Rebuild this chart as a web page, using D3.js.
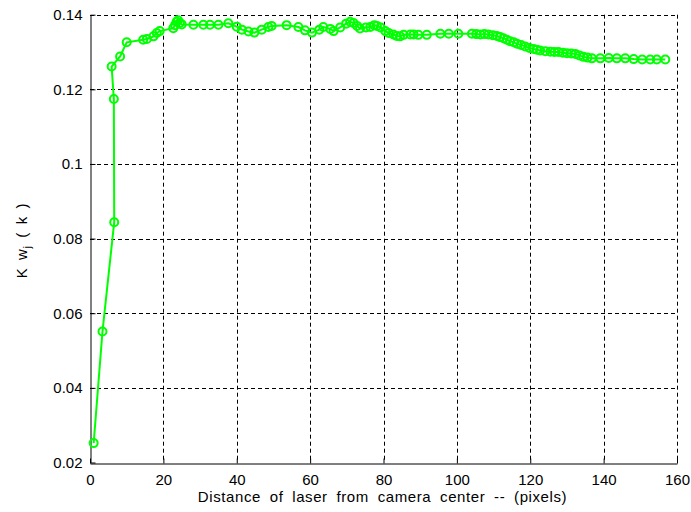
<!DOCTYPE html>
<html>
<head>
<meta charset="utf-8">
<script src="https://cdn.jsdelivr.net/npm/d3@7"></script>
<style>
  body { margin: 0; background: #fff; }
  text { font-family: Arial, "Liberation Sans", sans-serif; fill: #000; }
</style>
</head>
<body>
<svg id="chart" width="691" height="512"></svg>
<script>
// distance of laser from camera center (pixels)
const distance = [
  1.0, 3.4, 6.6, 6.5, 5.9, 8.2, 10.0, 14.5, 15.5, 17.3, 18.2, 19.0,
  22.7, 23.2, 23.6, 24.0, 24.5, 25.0, 28.2, 30.9, 32.7, 35.0, 37.7,
  40.0, 41.4, 43.2, 44.8, 46.8, 48.6, 49.5, 53.6, 56.8, 58.6, 60.5,
  62.5, 63.6, 65.5, 66.4, 68.2, 69.8, 70.9, 71.8, 72.8, 73.6, 75.2,
  76.4, 77.5, 78.2, 79.2, 80.5, 81.4, 82.7, 83.6, 84.5, 85.5, 87.3,
  88.2, 89.5, 91.8, 95.5, 97.8, 100.4, 104.1, 105.3, 106.4, 107.5,
  108.6, 109.8, 110.9, 111.8, 112.7, 113.6, 114.5, 115.5, 116.4,
  117.5, 118.6, 119.8, 120.9, 121.8, 122.7, 124.1, 125.5, 126.6,
  127.7, 128.9, 130.0, 131.2, 132.3, 133.4, 134.5, 135.6, 136.8,
  139.1, 141.4, 143.6, 145.9, 148.2, 150.5, 152.7, 154.5, 156.8
];
// Kw_j(k) values
const kw = [
  0.0252, 0.0551, 0.0844, 0.1174, 0.1261, 0.1288, 0.1326, 0.1333, 0.1335, 0.1342, 0.1351, 0.1356,
  0.1364, 0.1372, 0.1381, 0.1385, 0.1378, 0.1374, 0.1373, 0.1373, 0.1373, 0.1373, 0.1377,
  0.1368, 0.1360, 0.1355, 0.1352, 0.1360, 0.1367, 0.1370, 0.1372, 0.1367, 0.1358, 0.1352,
  0.1360, 0.1367, 0.1362, 0.1356, 0.1366, 0.1376, 0.1381, 0.1378, 0.1370, 0.1363, 0.1366,
  0.1367, 0.1372, 0.1370, 0.1366, 0.1356, 0.1351, 0.1347, 0.1343, 0.1342, 0.1346, 0.1347,
  0.1347, 0.1346, 0.1346, 0.1349, 0.1349, 0.1349, 0.1349, 0.1348, 0.1347, 0.1348,
  0.1347, 0.1345, 0.1343, 0.1340, 0.1337, 0.1333, 0.1329, 0.1326, 0.1322,
  0.1319, 0.1315, 0.1311, 0.1308, 0.1306, 0.1304, 0.1302, 0.1301, 0.1300,
  0.1300, 0.1298, 0.1297, 0.1296, 0.1295, 0.1291, 0.1287, 0.1285, 0.1283,
  0.1283, 0.1284, 0.1283, 0.1283, 0.1281, 0.1280, 0.1280, 0.1280, 0.1280
];
const xTicks = [0, 20, 40, 60, 80, 100, 120, 140, 160];
const yTicks = [0.02, 0.04, 0.06, 0.08, 0.1, 0.12, 0.14];

const svg = d3.select('#chart');
const plotLeft = 90, plotRight = 677, plotTop = 14.7, plotBottom = 462.5;

const x = d3.scaleLinear().domain([0, 160]).range([plotLeft, plotRight]);
const y = d3.scaleLinear().domain([0.02, 0.14]).range([plotBottom, plotTop]);

// dashed grid
const grid = svg.append('g')
  .attr('stroke', '#000')
  .attr('stroke-width', 1)
  .attr('stroke-dasharray', '4,3');
grid.selectAll('.gx').data(xTicks.slice(1)).enter().append('line')
  .attr('x1', d => Math.round(x(d)) + 0.5).attr('x2', d => Math.round(x(d)) + 0.5)
  .attr('y1', plotTop).attr('y2', plotBottom);
grid.selectAll('.gy').data(yTicks.slice(1)).enter().append('line')
  .attr('y1', d => Math.round(y(d)) + 0.5).attr('y2', d => Math.round(y(d)) + 0.5)
  .attr('x1', plotLeft).attr('x2', plotRight);

// axes
const xAxis = d3.axisBottom(x).tickValues(xTicks).tickSizeInner(-5).tickSizeOuter(0)
  .tickPadding(11).tickFormat(d3.format('d'));
const yAxis = d3.axisLeft(y).tickValues(yTicks).tickSizeInner(-5).tickSizeOuter(0)
  .tickPadding(8).tickFormat(d => String(+d.toFixed(2)));

const gx = svg.append('g')
  .attr('transform', `translate(0,${Math.round(plotBottom) + 0.5})`)
  .call(xAxis);
const gy = svg.append('g')
  .attr('transform', `translate(${plotLeft + 0.5},0)`)
  .call(yAxis);
[gx, gy].forEach(g => {
  g.selectAll('text').style('font-size', '15px').style('font-family', 'Arial, "Liberation Sans", sans-serif').attr('fill', '#000');
  g.selectAll('path, line').attr('stroke', '#000');
});

// data line and markers
const line = d3.line().x((d, i) => x(distance[i])).y(d => y(d));
svg.append('path')
  .datum(kw)
  .attr('d', line)
  .attr('fill', 'none')
  .attr('stroke', '#00ff00')
  .attr('stroke-width', 2);
svg.selectAll('circle.m').data(kw).enter().append('circle')
  .attr('class', 'm')
  .attr('cx', (d, i) => x(distance[i]))
  .attr('cy', d => y(d))
  .attr('r', 4)
  .attr('fill', 'none')
  .attr('stroke', '#00ff00')
  .attr('stroke-width', 2);

// labels
svg.append('text')
  .attr('x', (plotLeft + plotRight) / 2 - 1)
  .attr('y', 502)
  .attr('text-anchor', 'middle')
  .style('font-size', '15px')
  .style('letter-spacing', '0.6px')
  .style('word-spacing', '4px')
  .text('Distance of laser from camera center -- (pixels)');

const yl = svg.append('text')
  .attr('transform', `translate(27,${(plotTop + plotBottom) / 2 + 2}) rotate(-90)`)
  .attr('text-anchor', 'middle')
  .style('font-size', '15px')
  .style('letter-spacing', '0.6px')
  .style('word-spacing', '3px');
yl.append('tspan').text('K w');
yl.append('tspan').attr('dy', 4).style('font-size', '11px').text('j');
yl.append('tspan').attr('dy', -4).text(' ( k )');
</script>
</body>
</html>
